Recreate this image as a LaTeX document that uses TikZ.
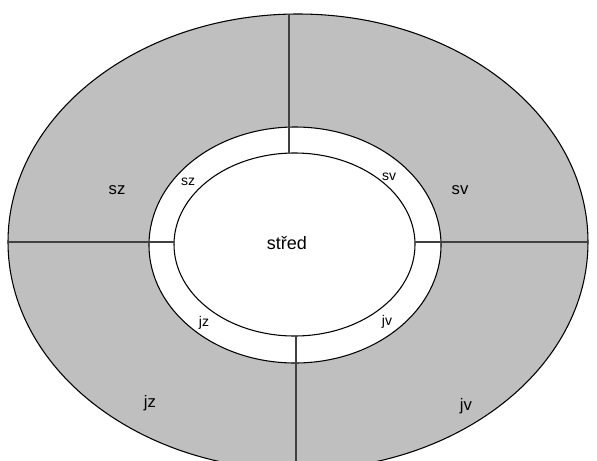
\documentclass[tikz,border=0pt]{standalone}
\usepackage{fontspec}
\setmainfont{Liberation Sans}
\begin{document}
\begin{tikzpicture}[x=0.75pt,y=-0.75pt,
  rim/.style={draw=black,line width=0.8pt},
  divider/.style={draw=black!75,line width=1.4pt},
  outerlbl/.style={font=\fontsize{12.5}{14}\selectfont,inner sep=0pt},
  innerlbl/.style={font=\fontsize{10.5}{12}\selectfont,inner sep=0pt},
  centerlbl/.style={font=\fontsize{13.5}{16}\selectfont,inner sep=0pt}]
\useasboundingbox (0,0) rectangle (597,461);
\begin{scope}
\clip (0,0) rectangle (597,461);
% outer ring
\path[rim,fill=black!25] (298,242) ellipse [x radius=290,y radius=228];
% middle ellipse (white ring)
\path[rim,fill=white] (295,245) ellipse [x radius=146,y radius=118];
% inner ellipse
\path[rim] (294.5,244.5) ellipse [x radius=120.5,y radius=91.5];
% named points
\coordinate (otop) at (289,14);
\coordinate (itop) at (289,153);
\coordinate (oleft) at (8,242);
\coordinate (ileft) at (174,242);
\coordinate (iright) at (415,242);
\coordinate (oright) at (588,242);
\coordinate (ibot) at (296,336);
\coordinate (obot) at (296,470);
\draw[divider] (otop) -- (itop);
\draw[divider] (oleft) -- (ileft);
\draw[divider] (iright) -- (oright);
\draw[divider] (ibot) -- (obot);
\end{scope}
% labels
\node[centerlbl] (stred) at (287,243) {střed};
\node[innerlbl] (isz) at (188,182) {sz};
\node[innerlbl] (isv) at (389,177) {sv};
\node[innerlbl] (ijz) at (204,323) {jz};
\node[innerlbl] (ijv) at (387,322) {jv};
\node[outerlbl] (osz) at (117,190) {sz};
\node[outerlbl] (osv) at (460,190) {sv};
\node[outerlbl] (ojz) at (150,403) {jz};
\node[outerlbl] (ojv) at (466,406) {jv};
\end{tikzpicture}
\end{document}
